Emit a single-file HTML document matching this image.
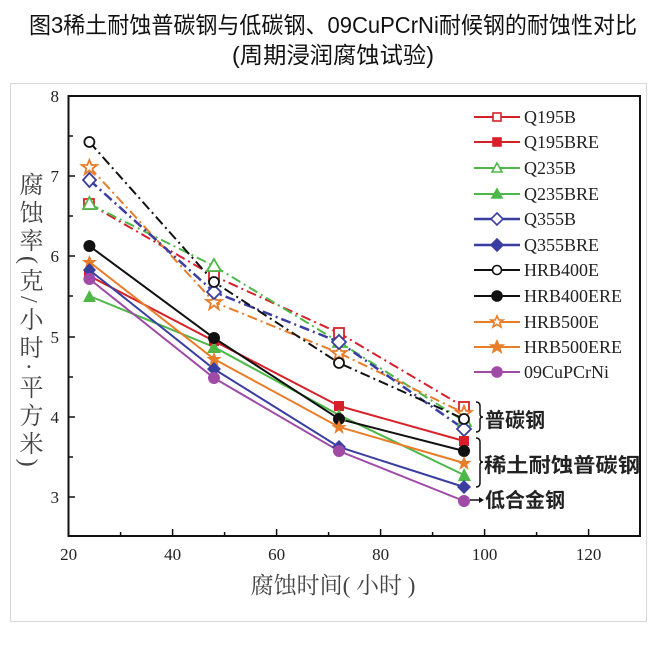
<!DOCTYPE html>
<html><head><meta charset="utf-8"><style>
body{margin:0;background:#fff;}
svg{display:block;}
.t{font-family:"Liberation Sans","Noto Sans CJK SC",sans-serif;}
.s{font-family:"Liberation Serif","Noto Serif CJK SC",serif;}
</style></head><body>
<svg width="660" height="645" viewBox="0 0 660 645" xmlns="http://www.w3.org/2000/svg">
<text class="t" x="333" y="33" font-size="23" text-anchor="middle" textLength="608" lengthAdjust="spacingAndGlyphs" fill="#111">图3稀土耐蚀普碳钢与低碳钢、09CuPCrNi耐候钢的耐蚀性对比</text>
<text class="t" x="333" y="63" font-size="23" text-anchor="middle" textLength="202" lengthAdjust="spacingAndGlyphs" fill="#111">(周期浸润腐蚀试验)</text>
<rect x="10.5" y="83.5" width="636" height="538" fill="none" stroke="#d8d8d8" stroke-width="1"/>
<rect x="68.5" y="96" width="571.5" height="440" fill="none" stroke="#111" stroke-width="2"/>
<g stroke="#111" stroke-width="1.5">
<line x1="68.6" y1="536" x2="68.6" y2="529"/><line x1="120.6" y1="536" x2="120.6" y2="532"/>
<line x1="172.6" y1="536" x2="172.6" y2="529"/><line x1="224.6" y1="536" x2="224.6" y2="532"/>
<line x1="276.6" y1="536" x2="276.6" y2="529"/><line x1="328.6" y1="536" x2="328.6" y2="532"/>
<line x1="380.6" y1="536" x2="380.6" y2="529"/><line x1="432.6" y1="536" x2="432.6" y2="532"/>
<line x1="484.6" y1="536" x2="484.6" y2="529"/><line x1="536.6" y1="536" x2="536.6" y2="532"/>
<line x1="588.6" y1="536" x2="588.6" y2="529"/>
<line x1="68.5" y1="136" x2="73" y2="136"/><line x1="68.5" y1="176" x2="75" y2="176"/>
<line x1="68.5" y1="216" x2="73" y2="216"/><line x1="68.5" y1="256" x2="75" y2="256"/>
<line x1="68.5" y1="296" x2="73" y2="296"/><line x1="68.5" y1="337" x2="75" y2="337"/>
<line x1="68.5" y1="377" x2="73" y2="377"/><line x1="68.5" y1="417" x2="75" y2="417"/>
<line x1="68.5" y1="457" x2="73" y2="457"/><line x1="68.5" y1="497" x2="75" y2="497"/>
</g>
<g class="s" font-size="17" fill="#222">
<g text-anchor="middle">
<text x="68.6" y="560">20</text><text x="172.6" y="560">40</text><text x="276.6" y="560">60</text>
<text x="380.6" y="560">80</text><text x="484.6" y="560">100</text><text x="588.6" y="560">120</text>
</g>
<g text-anchor="end">
<text x="59" y="102">8</text><text x="59" y="182">7</text><text x="59" y="262">6</text>
<text x="59" y="343">5</text><text x="59" y="423">4</text><text x="59" y="503">3</text>
</g>
</g>
<text class="s" x="333" y="593" font-size="23" text-anchor="middle" fill="#444">腐蚀时间( 小时 )</text>
<text class="s" x="28" y="172" font-size="24" fill="#444" letter-spacing="4" style="writing-mode:vertical-rl;">腐蚀率(克/小时·平方米)</text>

<g fill="none" stroke-width="2">
<polyline stroke="#d8202a" stroke-dasharray="10,4,2,4" points="89.4,204 214,276 339,333 464,407"/>
<polyline stroke="#4db848" stroke-dasharray="10,4,2,4" points="89.4,204 214,266 339,342 464,421"/>
<polyline stroke="#e87d2a" stroke-dasharray="10,4,2,4" points="89.4,167 214,302 339,353 464,413"/>
<polyline stroke="#3a3ea0" stroke-width="2.5" stroke-dasharray="10,4,2,4" points="89.4,180 214,292 339,342 464,429"/>
<polyline stroke="#111" stroke-dasharray="10,4,2,4" points="89.4,142 214,282 339,363 464,419"/>
</g>
<g fill="none" stroke-width="2">
<polyline stroke="#d8202a" points="89.4,276 214,341 339,406 464,441"/>
<polyline stroke="#4db848" points="89.4,296 214,347 339,415 464,475"/>
<polyline stroke="#3a3ea0" points="89.4,270 214,369 339,447 464,487"/>
<polyline stroke="#111" points="89.4,246 214,338 339,419 464,451"/>
<polyline stroke="#e87d2a" points="89.4,262 214,359 339,427 464,463"/>
<polyline stroke="#a04aa8" points="89.4,279 214,378 339,451 464,501"/>
</g>
<g stroke-width="1.8">
<g fill="#fff" stroke="#d8202a"><rect x="84" y="199" width="10" height="10"/><rect x="209" y="271" width="10" height="10"/><rect x="334" y="328" width="10" height="10"/><rect x="459" y="402" width="10" height="10"/></g>
<g fill="#fff" stroke="#4db848"><polygon points="89.4,197 83,209 96,209"/><polygon points="214,259 207,271 221,271"/><polygon points="339,335 333,347 346,347"/><polygon points="464,414 458,426 471,426"/></g>
<g fill="#fff" stroke="#e87d2a">
<polygon points="89.4,160 91.5,165 97,165 92.5,168.5 94,174 89.4,170.5 84.8,174 86.3,168.5 81.8,165 87.3,165"/>
<polygon points="214,295 216.1,300 221.6,300 217.1,303.5 218.6,309 214,305.5 209.4,309 210.9,303.5 206.4,300 211.9,300"/>
<polygon points="339,346 341.1,351 346.6,351 342.1,354.5 343.6,360 339,356.5 334.4,360 335.9,354.5 331.4,351 336.9,351"/>
<polygon points="464,406 466.1,411 471.6,411 467.1,414.5 468.6,420 464,416.5 459.4,420 460.9,414.5 456.4,411 461.9,411"/>
</g>
<g fill="#fff" stroke="#3a3ea0"><polygon points="89.4,173 96,180 89.4,187 83,180"/><polygon points="214,285 221,292 214,299 207,292"/><polygon points="339,335 346,342 339,349 332,342"/><polygon points="464,422 471,429 464,436 457,429"/></g>
<g fill="#fff" stroke="#111"><circle cx="89.4" cy="142" r="5"/><circle cx="214" cy="282" r="5"/><circle cx="339" cy="363" r="5"/><circle cx="464" cy="419" r="5"/></g>
<g fill="#d8202a" stroke="none"><rect x="84" y="271" width="10" height="10"/><rect x="209" y="336" width="10" height="10"/><rect x="334" y="401" width="10" height="10"/><rect x="459" y="436" width="10" height="10"/></g>
<g fill="#4db848"><polygon points="89.4,290 83,302 96,302"/><polygon points="214,341 207,353 221,353"/><polygon points="339,409 333,421 346,421"/><polygon points="464,468 458,481 471,481"/></g>
<g fill="#111"><circle cx="89.4" cy="246" r="6"/><circle cx="214" cy="338" r="6"/><circle cx="339" cy="419" r="6"/><circle cx="464" cy="451" r="6"/></g>
<g fill="#e87d2a">
<polygon points="89.4,255 91.5,260 97,260 92.5,263.5 94,269 89.4,265.5 84.8,269 86.3,263.5 81.8,260 87.3,260"/>
<polygon points="214,352 216.1,357 221.6,357 217.1,360.5 218.6,366 214,362.5 209.4,366 210.9,360.5 206.4,357 211.9,357"/>
<polygon points="339,420 341.1,425 346.6,425 342.1,428.5 343.6,434 339,430.5 334.4,434 335.9,428.5 331.4,425 336.9,425"/>
<polygon points="464,456 466.1,461 471.6,461 467.1,464.5 468.6,470 464,466.5 459.4,470 460.9,464.5 456.4,461 461.9,461"/>
</g>
<g fill="#3a3ea0"><polygon points="89.4,263 96,270 89.4,277 83,270"/><polygon points="214,362 221,369 214,376 207,369"/><polygon points="339,440 346,447 339,454 332,447"/><polygon points="464,480 471,487 464,494 457,487"/></g>
<g fill="#a04aa8"><circle cx="89.4" cy="279" r="6"/><circle cx="214" cy="378" r="6"/><circle cx="339" cy="451" r="6"/><circle cx="464" cy="501" r="6"/></g>
</g>
<g fill="none" stroke="#111" stroke-width="1.5">
<path d="M476,402 q4,0 4,4 v8 q0,3 3,3 q-3,0 -3,3 v8 q0,4 -4,4"/>
<path d="M476,438 q4,0 4,4 v17 q0,3 3,3 q-3,0 -3,3 v18 q0,4 -4,4"/>
<line x1="470" y1="500" x2="480" y2="500"/>
</g>
<polygon points="484,500 479,497 479,503" fill="#111"/>
<g class="t" font-size="20" font-weight="bold" fill="#222">
<text x="485" y="427">普碳钢</text>
<text x="484" y="472" textLength="156" lengthAdjust="spacingAndGlyphs">稀土耐蚀普碳钢</text>
<text x="485" y="507">低合金钢</text>
</g>
<rect x="463" y="97" width="176" height="285" fill="#fff" stroke="none"/>
<g stroke-width="2" fill="none">
<line x1="474" y1="117" x2="520" y2="117" stroke="#d8202a"/>
<line x1="474" y1="142" x2="520" y2="142" stroke="#d8202a"/>
<line x1="474" y1="168" x2="520" y2="168" stroke="#4db848"/>
<line x1="474" y1="194" x2="520" y2="194" stroke="#4db848"/>
<line x1="474" y1="219" x2="520" y2="219" stroke="#3a3ea0" stroke-width="2.5"/>
<line x1="474" y1="245" x2="520" y2="245" stroke="#3a3ea0" stroke-width="2.5"/>
<line x1="474" y1="270" x2="520" y2="270" stroke="#111"/>
<line x1="474" y1="296" x2="520" y2="296" stroke="#111"/>
<line x1="474" y1="322" x2="520" y2="322" stroke="#e87d2a"/>
<line x1="474" y1="347" x2="520" y2="347" stroke="#e87d2a"/>
<line x1="474" y1="372" x2="520" y2="372" stroke="#a04aa8"/>
</g>
<g stroke-width="1.6">
<rect x="493" y="113" width="8" height="8" fill="#fff" stroke="#d8202a"/>
<rect x="493" y="138" width="8" height="8" fill="#d8202a" stroke="#d8202a"/>
<polygon points="497,163 492,172 502,172" fill="#fff" stroke="#4db848"/>
<polygon points="497,189 492,198 502,198" fill="#4db848" stroke="#4db848"/>
<polygon points="497,213 503,219 497,225 491,219" fill="#fff" stroke="#3a3ea0"/>
<polygon points="497,239 503,245 497,251 491,245" fill="#3a3ea0" stroke="#3a3ea0"/>
<circle cx="497" cy="270" r="4.5" fill="#fff" stroke="#111"/>
<circle cx="497" cy="296" r="5" fill="#111" stroke="#111"/>
<polygon points="497,316 498.8,320 503,320 499.7,322.6 501,327 497,324.3 493,327 494.3,322.6 491,320 495.2,320" fill="#fff" stroke="#e87d2a"/>
<polygon points="497,341 498.8,345 503,345 499.7,347.6 501,352 497,349.3 493,352 494.3,347.6 491,345 495.2,345" fill="#e87d2a" stroke="#e87d2a"/>
<circle cx="497" cy="372" r="5" fill="#a04aa8" stroke="#a04aa8"/>
</g>
<g class="s" font-size="18" fill="#222">
<text x="524" y="123">Q195B</text><text x="524" y="148">Q195BRE</text>
<text x="524" y="174">Q235B</text><text x="524" y="200">Q235BRE</text>
<text x="524" y="225">Q355B</text><text x="524" y="251">Q355BRE</text>
<text x="524" y="276">HRB400E</text><text x="524" y="302">HRB400ERE</text>
<text x="524" y="328">HRB500E</text><text x="524" y="353">HRB500ERE</text>
<text x="524" y="378">09CuPCrNi</text>
</g>
</svg>
</body></html>
